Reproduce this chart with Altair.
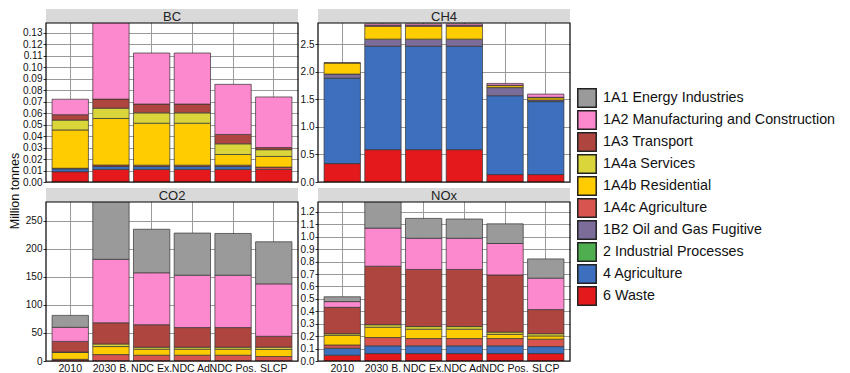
import altair as alt
import pandas as pd

scenarios = ["2010", "2030 B.", "NDC Ex.", "NDC Ad.", "NDC Pos.", "SLCP"]
sectors = [
    "1A1 Energy Industries",
    "1A2 Manufacturing and Construction",
    "1A3 Transport",
    "1A4a Services",
    "1A4b Residential",
    "1A4c Agriculture",
    "1B2 Oil and Gas Fugitive",
    "2 Industrial Processes",
    "4 Agriculture",
    "6 Waste",
]
colors = ["#9a9a9a", "#fc88cd", "#ae453e", "#dbd53c", "#fecc00",
          "#d8544e", "#7b6c99", "#4fae4e", "#3d6fbf", "#e3191c"]
pollutants = ["BC", "CH4", "CO2", "NOx"]
y_title = "Million tonnes"

# segment values per sector (Million tonnes), in scenario order
BC = {
    "6 Waste": [0.009, 0.011, 0.011, 0.011, 0.011, 0.011],
    "4 Agriculture": [0.0025, 0.0025, 0.0025, 0.0025, 0.0025, 0.0],
    "1A4c Agriculture": [0.0005, 0.0013, 0.0012, 0.0012, 0.0012, 0.002],
    "1A4b Residential": [0.0334, 0.0406, 0.0366, 0.0366, 0.0093, 0.0093],
    "1A4a Services": [0.0086, 0.009, 0.009, 0.009, 0.0093, 0.0059],
    "1A3 Transport": [0.0047, 0.0079, 0.0077, 0.0077, 0.0082, 0.0018],
    "1A2 Manufacturing and Construction": [0.0135, 0.0825, 0.0445, 0.0445, 0.0437, 0.0442],
}
CH4 = {
    "6 Waste": [0.334, 0.587, 0.587, 0.587, 0.135, 0.135],
    "4 Agriculture": [1.55, 1.878, 1.878, 1.878, 1.432, 1.325],
    "1B2 Oil and Gas Fugitive": [0.076, 0.129, 0.129, 0.129, 0.147, 0.03],
    "1A4b Residential": [0.2, 0.236, 0.236, 0.236, 0.036, 0.04],
    "1A3 Transport": [0.005, 0.01, 0.01, 0.01, 0.008, 0.008],
    "1A2 Manufacturing and Construction": [0.0, 0.03, 0.03, 0.03, 0.032, 0.058],
}
CO2 = {
    "1A4c Agriculture": [3.0, 11.4, 10.3, 10.3, 10.3, 8.0],
    "1A4b Residential": [12.4, 14.3, 10.7, 10.7, 10.7, 12.6],
    "1A4a Services": [0.5, 4.6, 3.6, 3.6, 3.6, 4.0],
    "1A3 Transport": [19.0, 37.7, 40.0, 34.9, 34.9, 19.4],
    "1A2 Manufacturing and Construction": [25.1, 113.0, 92.4, 93.2, 93.2, 93.3],
    "1A1 Energy Industries": [21.2, 119.0, 77.5, 75.0, 74.3, 74.9],
}
NOX = {
    "6 Waste": [0.0465, 0.06, 0.06, 0.06, 0.06, 0.06],
    "4 Agriculture": [0.0565, 0.062, 0.062, 0.062, 0.062, 0.056],
    "1A4c Agriculture": [0.026, 0.067, 0.059, 0.059, 0.059, 0.06],
    "1A4b Residential": [0.078, 0.083, 0.075, 0.075, 0.034, 0.026],
    "1A4a Services": [0.013, 0.02, 0.021, 0.021, 0.018, 0.018],
    "1A3 Transport": [0.212, 0.471, 0.46, 0.46, 0.46, 0.194],
    "1A2 Manufacturing and Construction": [0.046, 0.307, 0.251, 0.251, 0.253, 0.253],
    "1A1 Energy Industries": [0.039, 0.25, 0.16, 0.155, 0.158, 0.155],
}
series = {"BC": BC, "CH4": CH4, "CO2": CO2, "NOx": NOX}

y_max = {"BC": 0.1387, "CH4": 2.887, "CO2": 283, "NOx": 1.28}
y_ticks = {
    "BC": [round(i * 0.01, 2) for i in range(14)],
    "CH4": [0, 0.5, 1.0, 1.5, 2.0, 2.5],
    "CO2": [0, 50, 100, 150, 200, 250],
    "NOx": [round(i * 0.1, 1) for i in range(13)],
}
y_fmt = {"BC": ".2f", "CH4": ".1f", "CO2": "d", "NOx": ".1f"}

rows = []
for p in pollutants:
    for sec, vals in series[p].items():
        for sc, v in zip(scenarios, vals):
            if v > 0:
                rows.append({"pollutant": p, "scenario": sc, "sector": sec,
                             "value": v, "rank": 9 - sectors.index(sec)})
df = pd.DataFrame(rows)

FONT = "Liberation Sans"
W = 252
H = 159
SH = 14
GAP = 4
NOVIEW = alt.ViewBackground(stroke="transparent")
color_scale = alt.Scale(domain=sectors, range=colors)


def panel(p, bottom):
    d = df[df.pollutant == p]
    xaxis = alt.Axis(title=None, labels=bottom, ticks=False, domain=False, grid=True,
                     bandPosition=0.5, labelAngle=0, labelFontSize=10.6, labelPadding=2,
                     labelColor="#111", labelFont=FONT, labelOverlap=False)
    yaxis = alt.Axis(title=None, values=y_ticks[p], format=y_fmt[p], domain=False,
                     grid=True, tickSize=3, labelPadding=1, labelFontSize=10,
                     labelFont=FONT, labelColor="#111")
    bars = alt.Chart(d).mark_bar(clip=True, stroke="#333", strokeWidth=0.7).encode(
        x=alt.X("scenario:N", sort=scenarios,
                scale=alt.Scale(paddingInner=0.107, paddingOuter=0.149), axis=xaxis),
        y=alt.Y("value:Q", stack="zero",
                scale=alt.Scale(domain=[0, y_max[p]], nice=False, zero=True,
                                range=[SH + H, SH]),
                axis=yaxis),
        color=alt.Color("sector:N", scale=color_scale, legend=None),
        order=alt.Order("rank:Q", sort="ascending"),
    )
    base = alt.Chart(pd.DataFrame({"name": [p]}))
    strip = base.mark_rect(color="#d9d9d9").encode(
        x=alt.value(0), x2=alt.value(W), y=alt.value(0), y2=alt.value(SH))
    txt = base.mark_text(font=FONT, fontSize=13, color="#222", baseline="middle").encode(
        text="name:N", x=alt.value(W / 2), y=alt.value(SH / 2 + 0.5))
    border = base.mark_rect(filled=False, stroke="#000", strokeWidth=1.2).encode(
        x=alt.value(0), x2=alt.value(W), y=alt.value(SH), y2=alt.value(SH + H))
    return alt.layer(bars, strip, txt, border).properties(width=W, height=SH + H, view=NOVIEW)


grid = alt.concat(panel("BC", False), panel("CH4", False),
                  panel("CO2", True), panel("NOx", True),
                  columns=2, spacing=alt.RowColnumber(column=-1, row=-1))

total_h = 2 * (SH + H) + GAP + 13
title_chart = alt.Chart(pd.DataFrame({"t": [y_title]})).mark_text(
    angle=270, font=FONT, fontSize=12.5, color="#111", baseline="middle"
).encode(
    text="t:N", x=alt.value(5), y=alt.value(SH + H + (GAP + SH) / 2)
).properties(width=10, height=total_h, view=NOVIEW)

# legend drawn as its own small chart
leg_df = pd.DataFrame({"sector": sectors})
leg_y = alt.Y("sector:N", sort=sectors, axis=None,
              scale=alt.Scale(type="point", domain=sectors, range=[89, 287], padding=0))
leg_base = alt.Chart(leg_df)
leg_sq = leg_base.mark_square(size=340, stroke="#222", strokeWidth=1.5, opacity=1).encode(
    x=alt.value(14), y=leg_y, color=alt.Color("sector:N", scale=color_scale, legend=None))
leg_txt = leg_base.mark_text(align="left", baseline="middle", font=FONT, fontSize=14.3,
                             color="#111").encode(
    x=alt.value(30), y=leg_y, text="sector:N")
legend_chart = alt.layer(leg_sq, leg_txt).properties(width=262, height=total_h, view=NOVIEW)

chart = alt.hconcat(title_chart, grid, legend_chart, spacing=0).properties(
    padding={"left": 0, "top": 0, "right": 0, "bottom": 0}
).configure_axis(
    gridColor="#9a9a9a", gridWidth=1, gridOpacity=1, tickColor="#333"
)

chart.save("out.html", embed_options={"renderer": "svg", "actions": False})
